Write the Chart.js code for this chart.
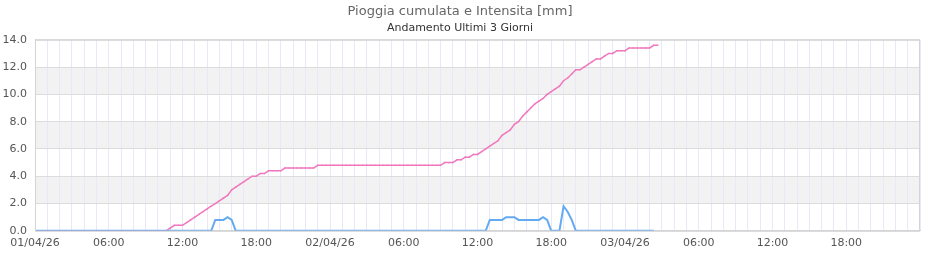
<!DOCTYPE html>
<html>
<head>
<meta charset="utf-8">
<script src="https://cdn.jsdelivr.net/npm/chart.js"></script>
<style>
  body { margin: 0; background: #fff; }
  #wrap { width: 940px; height: 260px; }
</style>
</head>
<body>
<div id="wrap"><canvas id="pioggiaChart"></canvas></div>
<script>
// campioni ogni 20 minuti a partire da 01/04/26 00:00
const sampleStepHours = 1 / 3

// tick asse x (ore dall'inizio)
const xTickHours = [0, 6, 12, 18, 24, 30, 36, 42, 48, 54, 60, 66]
const xTickLabels = [
    '01/04/26', '06:00', '12:00', '18:00',
    '02/04/26', '06:00', '12:00', '18:00',
    '03/04/26', '06:00', '12:00', '18:00'
]

// pioggia cumulata [mm]
const pioggiaCumulata = [
    0, 0, 0, 0, 0, 0, 0, 0, 0, 0, 0, 0, 0, 0, 0, 0, 0, 0, 0, 0, 0, 0, 0, 0,   // 00:00 - 07:40
    0, 0, 0, 0, 0, 0, 0, 0, 0,                                                 // 08:00 - 10:40
    0.2, 0.4, 0.4, 0.4, 0.6, 0.8, 1.0, 1.2, 1.4, 1.6, 1.8, 2.0, 2.2, 2.4, 2.6,  // 11:00 - 15:40
    3.0, 3.2, 3.4, 3.6, 3.8, 4.0, 4.0, 4.2, 4.2, 4.4, 4.4, 4.4, 4.4, 4.6,      // 16:00 - 20:20
    4.6, 4.6, 4.6, 4.6, 4.6, 4.6, 4.6, 4.8,                                    // 20:40 - 23:00
    4.8, 4.8, 4.8, 4.8, 4.8, 4.8, 4.8, 4.8, 4.8, 4.8, 4.8, 4.8, 4.8, 4.8, 4.8, // 23:20 - 04:00
    4.8, 4.8, 4.8, 4.8, 4.8, 4.8, 4.8, 4.8, 4.8, 4.8, 4.8, 4.8, 4.8, 4.8, 4.8, // 04:20 - 09:00
    5.0, 5.0, 5.0, 5.2, 5.2, 5.4, 5.4, 5.6, 5.6, 5.8, 6.0, 6.2, 6.4, 6.6,      // 09:20 - 13:40
    7.0, 7.2, 7.4, 7.8, 8.0, 8.4, 8.7, 9.0, 9.3, 9.5, 9.7, 10.0, 10.2, 10.4,   // 14:00 - 18:20
    10.6, 11.0, 11.2, 11.5, 11.8, 11.8, 12.0, 12.2, 12.4, 12.6, 12.6, 12.8,    // 18:40 - 22:20
    13.0, 13.0, 13.2, 13.2, 13.2, 13.4, 13.4, 13.4, 13.4, 13.4, 13.4, 13.6, 13.6
]

// intensita [mm]
const intensita = [
    0, 0, 0, 0, 0, 0, 0, 0, 0, 0, 0, 0, 0, 0, 0, 0, 0, 0, 0, 0, 0, 0, 0, 0,
    0, 0, 0, 0, 0, 0, 0, 0, 0, 0, 0, 0, 0, 0, 0, 0, 0, 0, 0, 0,
    0.8, 0.8, 0.8, 1.0, 0.8, 0,
    0, 0, 0, 0, 0, 0, 0, 0, 0, 0, 0, 0, 0, 0, 0, 0, 0, 0, 0, 0, 0, 0, 0, 0,
    0, 0, 0, 0, 0, 0, 0, 0, 0, 0, 0, 0, 0, 0, 0, 0, 0, 0, 0, 0, 0, 0, 0, 0,
    0, 0, 0, 0, 0, 0, 0, 0, 0, 0, 0, 0, 0,
    0.8, 0.8, 0.8, 0.8, 1.0, 1.0, 1.0, 0.8, 0.8, 0.8, 0.8, 0.8, 0.8, 1.0, 0.8,
    0, 0, 0, 1.8, 1.4, 0.8, 0,
    0, 0, 0, 0, 0, 0, 0, 0, 0, 0, 0, 0, 0, 0, 0, 0, 0, 0, 0
]

const toPoints = arr => arr.map((v, i) => ({ x: i * sampleStepHours, y: v }))

// fasce grigie alternate
const bande = [[2, 4], [6, 8], [10, 12]]

const sfondoBande = {
    id: 'sfondoBande',
    beforeDraw(chart) {
        const { ctx, chartArea, scales } = chart
        ctx.save()
        ctx.fillStyle = '#f2f2f2'
        bande.forEach(([a, b]) => {
            const y1 = scales.y.getPixelForValue(b)
            const y2 = scales.y.getPixelForValue(a)
            ctx.fillRect(chartArea.left, y1, chartArea.right - chartArea.left, y2 - y1)
        })
        ctx.restore()
    },
    afterDatasetsDraw(chart) {
        const { ctx, chartArea } = chart
        ctx.save()
        ctx.strokeStyle = '#d4d4d4'
        ctx.lineWidth = 1
        ctx.strokeRect(chartArea.left + 0.5, chartArea.top + 0.5,
            chartArea.right - chartArea.left - 1, chartArea.bottom - chartArea.top)
        ctx.restore()
    }
}

Chart.defaults.font.family = '"DejaVu Sans", sans-serif'
Chart.defaults.font.size = 11
Chart.defaults.color = '#555'

new Chart(document.getElementById('pioggiaChart').getContext('2d'), {
    type: 'line',
    data: {
        datasets: [
            {
                label: 'Intensita',
                data: toPoints(intensita),
                borderColor: 'rgb(100, 170, 240)',
                backgroundColor: 'rgb(100, 170, 240)',
                borderWidth: 2,
                pointRadius: 0,
                tension: 0
            },
            {
                label: 'Pioggia cumulata',
                data: toPoints(pioggiaCumulata),
                borderColor: 'rgb(240, 120, 190)',
                backgroundColor: 'rgb(240, 120, 190)',
                borderWidth: 1.5,
                pointRadius: 0.8,
                pointBorderWidth: 0,
                tension: 0
            }
        ]
    },
    options: {
        responsive: true,
        maintainAspectRatio: false,
        animation: false,
        layout: { padding: { left: 0, right: 20, bottom: 4 } },
        plugins: {
            legend: { display: false },
            tooltip: { enabled: false },
            title: {
                display: true,
                text: 'Pioggia cumulata e Intensita [mm]',
                color: '#666',
                font: { size: 13, weight: 'normal' },
                padding: { top: 4, bottom: 0 }
            },
            subtitle: {
                display: true,
                text: 'Andamento Ultimi 3 Giorni',
                color: '#333',
                font: { size: 11 },
                padding: { top: 2, bottom: 5 }
            }
        },
        scales: {
            x: {
                type: 'linear',
                min: 0,
                max: 72,
                grid: { color: '#e8e8f8', drawTicks: false },
                border: { color: '#d4d4d4' },
                ticks: {
                    stepSize: 1,
                    autoSkip: false,
                    maxRotation: 0,
                    padding: 6,
                    callback: v => {
                        const i = xTickHours.indexOf(v)
                        return i >= 0 ? xTickLabels[i] : ''
                    }
                }
            },
            y: {
                min: 0,
                max: 14,
                grid: { color: '#dcdcdc', drawTicks: false },
                border: { color: '#d4d4d4' },
                afterFit: scale => { scale.width = 35 },
                ticks: {
                    stepSize: 2,
                    padding: 8,
                    callback: v => v.toFixed(1)
                }
            }
        }
    },
    plugins: [sfondoBande]
})
</script>
</body>
</html>
